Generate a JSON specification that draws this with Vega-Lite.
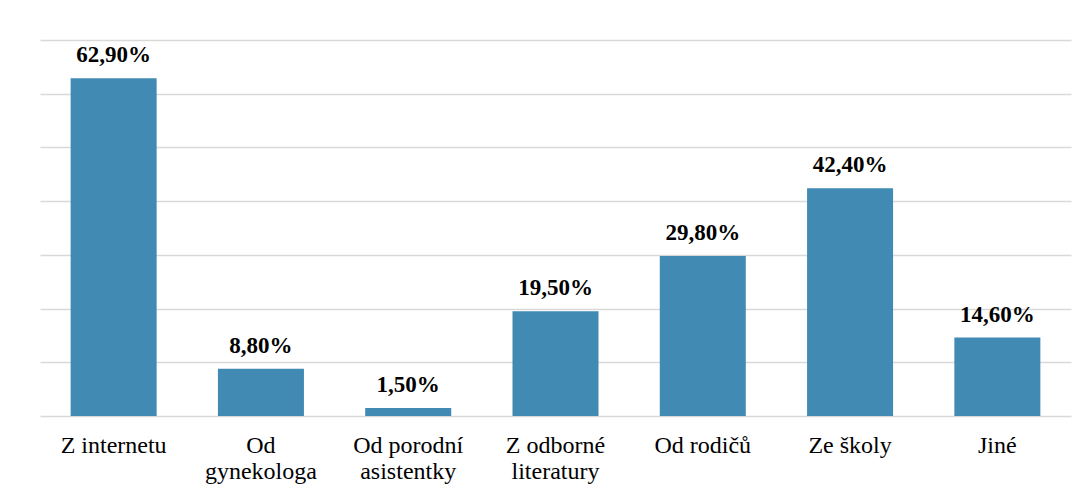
{
  "$schema": "https://vega.github.io/schema/vega-lite/v6.json",
  "autosize": {"type": "none"},
  "width": 1031,
  "height": 376,
  "padding": {"left": 40, "top": 40, "right": 16, "bottom": 81},
  "background": "white",
  "config": {
    "view": {"stroke": null},
    "font": "'Liberation Serif', 'Times New Roman', serif",
    "locale": {"number": {"decimal": ",", "thousands": " ", "grouping": [3], "currency": ["", " Kč"]}}
  },
  "data": {
    "values": [
      {"kategorie": "Z internetu", "podil": 0.629},
      {"kategorie": "Od|gynekologa", "podil": 0.088},
      {"kategorie": "Od porodní|asistentky", "podil": 0.015},
      {"kategorie": "Z odborné|literatury", "podil": 0.195},
      {"kategorie": "Od rodičů", "podil": 0.298},
      {"kategorie": "Ze školy", "podil": 0.424},
      {"kategorie": "Jiné", "podil": 0.146}
    ]
  },
  "encoding": {
    "x": {
      "field": "kategorie",
      "type": "nominal",
      "sort": null,
      "scale": {"paddingInner": 0.416, "paddingOuter": 0.208},
      "axis": {
        "title": null,
        "labelAngle": 0,
        "domain": false,
        "ticks": false,
        "labelPadding": 17,
        "labelFont": "'Liberation Serif', 'Times New Roman', serif",
        "labelFontSize": 24,
        "labelColor": "#000000",
        "labelLineHeight": 26,
        "labelExpr": "split(datum.label, '|')"
      }
    },
    "y": {
      "field": "podil",
      "type": "quantitative",
      "scale": {"domain": [0, 0.7], "nice": false},
      "axis": {
        "title": null,
        "labels": false,
        "ticks": false,
        "domain": false,
        "values": [0, 0.1, 0.2, 0.3, 0.4, 0.5, 0.6, 0.7],
        "gridColor": "#d9d9d9",
        "gridWidth": 1.5
      }
    }
  },
  "layer": [
    {"mark": {"type": "bar", "color": "#418AB3"}},
    {
      "mark": {"type": "text", "baseline": "alphabetic", "dy": -16, "font": "'Liberation Serif', 'Times New Roman', serif", "fontSize": 23, "fontWeight": "bold", "color": "#000000"},
      "encoding": {"text": {"field": "podil", "type": "quantitative", "format": ".2%"}}
    }
  ]
}
